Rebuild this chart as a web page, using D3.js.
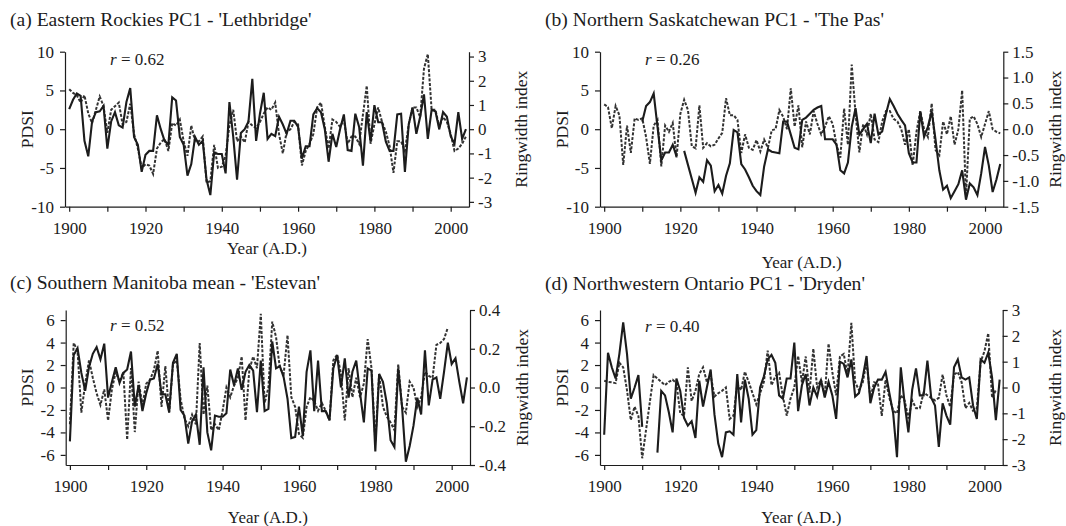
<!DOCTYPE html>
<html><head><meta charset="utf-8">
<script src="https://cdn.jsdelivr.net/npm/d3@7"></script>
<style>
body{margin:0;background:#fff;}
svg{display:block;font-family:"Liberation Serif","Times New Roman",serif;}
</style></head><body>
<svg id="chart" width="1066" height="526"></svg>
<script>
const years = d3.range(1900, 2005);

// (a) Eastern Rockies PC1 - Lethbridge
const pdsiA = [2.6,3.8,4.6,4.3,-1.5,-3.5,1.0,2.2,2.3,3.0,
 -2.5,1.0,2.2,0.5,0.2,3.5,5.3,-1.0,-2.0,-5.5,
 -3.3,-2.8,-2.8,1.8,0.0,-1.5,-2.0,4.1,3.7,-1.0,
 -2.0,-6.0,-4.5,-1.0,-2.0,-1.5,-6.5,-8.5,-3.0,-3.2,
 -3.2,-5.7,3.5,-1.0,-6.5,-0.5,0.0,1.0,6.5,-1.5,
 2.0,4.7,-1.25,-0.6,-0.9,1.6,0.6,-0.6,1.1,1.1,
 0.3,-3.8,-2.2,-2.2,1.9,2.7,2.2,0.0,-4.2,-0.6,
 -2.3,0.0,1.9,-2.7,-2.8,2.0,0.3,-4.7,2.2,-1.6,
 3.1,0.9,0.9,-1.6,-2.8,-2.8,1.9,2.0,-5.5,0.6,
 2.8,-0.6,1.6,4.5,-1.25,2.5,2.3,0.0,2.2,1.6,
 -0.9,-1.9,2.2,-1.25,0.0];
const rwA = [1.65,1.5,1.4,1.1,1.4,0.65,0.25,0.8,1.35,0.95,
 -0.15,0.8,0.95,1.1,0.2,0.3,1.05,-0.2,-0.8,-1.6,
 -1.45,-1.5,-1.85,-0.8,-0.55,-0.4,-0.9,0.25,0.15,0.4,
 -0.5,-1.1,0.15,-0.5,-0.5,-0.3,-2.2,-2.15,-0.65,-1.6,
 -1.55,-1.1,0.15,0.8,-0.5,-0.3,-0.55,0.3,0.15,0.05,
 0.3,0.65,0.9,0.8,1.1,-0.2,-1.0,-0.1,0.0,0.3,
 0.2,-1.5,-0.9,-0.6,-0.2,0.9,1.1,0.1,-0.8,0.4,
 0.3,0.1,0.4,-0.6,-0.3,-0.3,-0.6,0.6,1.8,-0.6,
 0.2,0.9,0.3,-0.1,-0.7,-1.8,-0.5,-0.5,-0.9,0.2,
 0.9,0.9,0.5,2.5,3.1,0.8,0.8,0.1,0.5,0.3,
 -0.2,-0.9,-0.8,-0.6,-0.3];

// (b) Northern Saskatchewan PC1 - The Pas
const pdsiB = [null,null,null,null,null,null,null,null,null,null,
 1.0,3.0,3.5,4.6,0.3,-4.0,-3.0,-3.0,-2.0,-3.5,
 null,-2.8,-4.6,-6.4,-8.2,-6.2,-6.8,-4.0,-4.7,-8.0,
 -7.2,-8.3,-6.0,-4.4,-0.1,-0.4,-4.5,-5.2,-6.2,-7.3,
 -8.0,-8.5,-4.8,-2.6,-2.9,-3.0,-3.1,1.0,1.0,-0.7,
 -2.4,-2.6,1.2,1.5,2.0,2.5,2.8,3.0,-1.3,-1.3,
 -1.3,-2.0,-5.3,-5.7,-4.3,0.3,2.7,-0.7,0.0,0.7,
 -1.8,2.0,-0.7,-0.3,2.0,3.9,3.0,2.0,1.2,0.5,
 -3.1,-4.3,-4.3,2.3,-1.0,0.3,2.3,-1.3,-5.3,-7.8,
 -7.3,-8.9,-8.0,-7.1,-5.3,-9.1,-7.0,-7.5,-8.5,-5.7,
 -2.3,-4.7,-8.1,-6.5,-4.5];
const rwB = [0.48,0.43,0.02,0.45,0.27,-0.69,0.07,-0.46,0.21,0.18,
 0.21,-0.15,-0.67,0.07,0.18,-0.72,0.07,-0.05,0.12,-0.55,
 0.3,0.57,0.37,-0.33,-0.37,0.46,-0.36,-0.27,-0.33,-0.3,
 -0.18,-0.07,0.6,0.27,0.27,0.18,-0.46,-0.1,-0.36,-0.4,
 -0.21,-0.43,-0.2,-0.36,-0.02,0.0,0.37,0.24,0.0,0.79,
 0.05,0.46,-0.35,0.15,-0.1,0.35,0.1,-0.1,0.05,0.25,
 0.1,-0.3,-0.55,0.4,-0.3,1.25,0.3,-0.45,0.1,-0.1,
 0.3,-0.2,-0.25,0.15,0.35,0.35,0.2,0.15,0.0,-0.3,
 0.0,-0.7,-0.05,0.35,0.0,-0.15,0.5,-0.4,-0.5,0.15,
 -0.1,0.25,-0.3,0.0,0.75,-1.3,0.2,0.25,0.1,-0.15,
 0.1,0.35,0.0,-0.05,-0.08];

// (c) Southern Manitoba mean - Estevan
const pdsiC = [-4.8,2.9,3.5,1.3,-0.3,1.8,3.0,3.6,2.5,3.9,
 -0.9,0.5,1.8,0.4,1.3,1.6,3.2,-1.7,0.2,-2.1,
 -0.5,0.7,0.8,2.1,-0.6,-0.6,-2.2,2.2,3.0,-2.0,
 -2.5,-5.0,-3.0,-2.4,-5.1,1.8,-4.0,-5.6,-2.5,-2.6,
 -2.6,-2.3,1.6,0.2,1.7,-0.2,1.4,2.0,1.5,-2.2,
 2.4,-2.1,-1.9,4.1,1.7,1.9,0.9,-1.0,-4.5,-4.4,
 -1.7,-4.3,1.4,3.3,-2.1,2.4,-2.1,-2.1,-2.9,1.7,
 2.9,0.0,2.6,-0.9,1.4,2.4,-0.5,-3.1,1.7,1.5,
 -5.7,1.2,0.5,-1.4,-4.7,-5.3,1.7,-1.7,-6.6,-5.2,
 -3.4,-0.9,-2.4,3.3,-1.6,0.7,0.9,-1.0,1.4,4.0,
 2.1,2.6,0.5,-1.4,0.9];
const rwC = [-0.19,0.23,0.19,-0.13,0.02,0.14,0.05,-0.03,-0.09,-0.01,
 -0.17,-0.01,0.08,0.03,0.08,-0.27,0.1,-0.23,0.03,-0.09,
 0.02,0.04,0.09,0.19,-0.1,0.11,-0.13,0.12,0.14,-0.06,
 -0.16,-0.2,-0.14,-0.19,0.23,-0.14,0.01,-0.22,-0.19,-0.22,
 -0.12,0.0,-0.05,0.01,0.05,0.16,-0.17,0.09,0.16,0.1,
 0.38,-0.08,0.0,0.34,0.26,0.1,0.07,0.27,-0.05,-0.1,
 -0.24,-0.26,-0.1,-0.05,-0.07,-0.12,-0.08,-0.12,-0.17,0.14,
 0.17,0.07,-0.17,0.1,-0.05,0.05,-0.05,0.02,0.25,0.1,
 -0.28,0.07,-0.1,-0.15,-0.18,-0.22,0.12,-0.1,-0.13,0.03,
 0.0,-0.1,-0.05,0.08,0.06,0.05,0.22,0.23,0.25,0.31,
 null,null,null,null,null];

// (d) Northwestern Ontario PC1 - Dryden
const pdsiD = [-4.2,3.1,1.8,0.8,3.0,5.8,3.0,-1.0,0.0,1.1,
 -3.5,null,null,null,-5.8,-0.3,-0.7,-2.2,-4.0,0.8,
 -0.3,-2.7,-3.4,-3.0,-4.5,0.6,-1.7,0.0,1.6,-2.4,
 -5.0,-6.2,-4.0,-3.9,-4.2,1.2,-3.1,0.7,-1.0,-4.2,
 -3.8,0.0,1.0,2.5,2.9,2.2,-0.7,-1.0,0.8,0.8,
 4.0,-2.1,0.2,1.2,-1.6,0.0,-0.8,0.7,-0.9,0.5,
 -0.7,-2.8,2.3,2.1,0.9,2.5,-0.8,-0.5,0.9,2.8,
 -1.4,0.0,0.7,0.7,1.4,-0.5,-2.3,-6.2,1.8,-1.4,
 -4.0,-0.2,1.7,-0.7,-0.7,2.4,-0.9,-1.6,-5.3,-1.4,
 -2.5,-3.3,1.8,2.5,0.9,0.7,0.9,-1.6,-2.8,2.5,
 2.2,3.1,0.9,-2.9,0.7];
const rwD = [0.26,0.22,0.2,0.17,0.96,0.78,-0.1,-1.26,-0.74,-1.1,
 -2.74,-1.65,-0.57,0.48,0.35,0.22,0.09,0.22,0.3,0.17,
 -1.0,-1.1,0.78,-0.52,-0.13,0.52,0.78,0.22,0.48,-0.35,
 -0.22,-0.13,0.0,-1.22,-1.09,0.13,-0.1,0.61,0.22,-0.22,
 -0.65,-0.22,0.22,1.43,0.09,0.43,0.57,-0.35,-1.09,-0.43,
 0.0,1.22,0.2,1.2,-0.2,1.5,0.0,0.3,-0.3,1.7,
 0.6,-0.3,1.2,1.3,0.5,2.5,0.2,-0.1,0.2,1.0,
 -0.4,0.2,0.15,-1.1,0.3,-0.4,-0.9,-1.0,-0.3,-0.5,
 -1.2,-0.5,-0.8,-0.8,-0.2,-0.3,-0.4,-0.5,-0.4,0.5,
 -0.3,-0.75,0.5,0.6,0.2,-0.8,-0.6,-0.9,-0.8,1.0,
 1.4,2.1,-0.4,-0.1,null];

const xTicks = [1900,1910,1920,1930,1940,1950,1960,1970,1980,1990,2000];
const pdsiTicksTop = [-10,-5,0,5,10];
const pdsiTicksBottom = [-6,-4,-2,0,2,4,6];
const rwTicksA = [-3,-2,-1,0,1,2,3];
const rwTicksB = [-1.5,-1.0,-0.5,0.0,0.5,1.0,1.5];
const rwTicksC = [-0.4,-0.2,0.0,0.2,0.4];
const rwTicksD = [-3,-2,-1,0,1,2,3];

const fmtInt = d => d3.format("d")(d).replace("\u2212","-");
const fmt1 = d => d3.format(".1f")(d).replace("\u2212","-");

const panels = [
 {title:"(a) Eastern Rockies PC1 - 'Lethbridge'", r:"0.62", pdsi:pdsiA, rw:rwA,
  x0:65, x1:469, y0:51.7, y1:206.7, ld:[-10,10], lt:pdsiTicksTop, rd:[-3.2,3.2], rt:rwTicksA, rf:fmtInt,
  tx:10, ty:26, rx:110, ry:65, xly:254},
 {title:"(b) Northern Saskatchewan PC1 - 'The Pas'", r:"0.26", pdsi:pdsiB, rw:rwB,
  x0:600, x1:1003.3, y0:51.7, y1:206.7, ld:[-10,10], lt:pdsiTicksTop, rd:[-1.5,1.5], rt:rwTicksB, rf:fmt1,
  tx:545, ty:26, rx:645, ry:65, xly:268},
 {title:"(c) Southern Manitoba mean - 'Estevan'", r:"0.52", pdsi:pdsiC, rw:rwC,
  x0:65.7, x1:470, y0:310, y1:465, ld:[-6.9,6.9], lt:pdsiTicksBottom, rd:[-0.4,0.4], rt:rwTicksC, rf:fmt1,
  tx:10, ty:289, rx:110, ry:331, xly:523},
 {title:"(d) Northwestern Ontario PC1 - 'Dryden'", r:"0.40", pdsi:pdsiD, rw:rwD,
  x0:600, x1:1002.7, y0:310, y1:465, ld:[-6.9,6.9], lt:pdsiTicksBottom, rd:[-3,3], rt:rwTicksD, rf:fmtInt,
  tx:545, ty:290, rx:645, ry:332, xly:523}
];

const svg = d3.select("#chart");
const ink = "#1c1c1c";

panels.forEach(p => {
  const g = svg.append("g");
  const x = d3.scaleLinear().domain([1898.9, 2004.8]).range([p.x0, p.x1]);
  const yL = d3.scaleLinear().domain(p.ld).range([p.y1, p.y0]);
  const yR = d3.scaleLinear().domain(p.rd).range([p.y1, p.y0]);

  // title
  g.append("text").attr("x", p.tx).attr("y", p.ty).attr("font-size", 19.6).attr("fill", ink).text(p.title);

  // axes
  const styleAxis = sel => {
    sel.select(".domain").attr("stroke", ink).attr("stroke-width", 1.2);
    sel.selectAll(".tick line").attr("stroke", ink).attr("stroke-width", 1.2);
    sel.selectAll("text").attr("font-size", 17).attr("fill", ink)
       .attr("font-family", "'Liberation Serif','Times New Roman',serif");
    sel.attr("font-family", null).attr("font-size", null);
  };
  g.append("g").attr("transform", `translate(0,${p.y1})`)
    .call(d3.axisBottom(x).tickValues(xTicks).tickSize(5).tickSizeOuter(0).tickPadding(10)
      .tickFormat(d => d % 20 === 0 ? String(d) : ""))
    .call(styleAxis);
  g.append("g").attr("transform", `translate(${p.x0},0)`)
    .call(d3.axisLeft(yL).tickValues(p.lt).tickSize(5).tickSizeOuter(0).tickPadding(6).tickFormat(fmtInt))
    .call(styleAxis);
  g.append("g").attr("transform", `translate(${p.x1},0)`)
    .call(d3.axisRight(yR).tickValues(p.rt).tickSize(5).tickSizeOuter(0).tickPadding(4).tickFormat(p.rf))
    .call(styleAxis);

  // axis titles
  const yc = (p.y0 + p.y1) / 2;
  g.append("text").attr("transform", `translate(${p.x0 - 38.5},${yc}) rotate(-90)`)
    .attr("text-anchor", "middle").attr("dy", "0.35em").attr("font-size", 17.5).attr("fill", ink).text("PDSI");
  g.append("text").attr("transform", `translate(${p.x1 + 52},${yc}) rotate(-90)`)
    .attr("text-anchor", "middle").attr("dy", "0.35em").attr("font-size", 17.5).attr("fill", ink).text("Ringwidth index");
  g.append("text").attr("x", (p.x0 + p.x1) / 2).attr("y", p.xly).attr("text-anchor", "middle")
    .attr("font-size", 17).attr("fill", ink).text("Year (A.D.)");

  // r label
  const rt = g.append("text").attr("x", p.rx).attr("y", p.ry).attr("font-size", 17).attr("fill", ink);
  rt.append("tspan").attr("font-style", "italic").text("r");
  rt.append("tspan").text(" = " + p.r);

  // series
  const lineL = d3.line().defined(d => d.v != null).x(d => x(d.year)).y(d => yL(d.v));
  const lineR = d3.line().defined(d => d.v != null).x(d => x(d.year)).y(d => yR(d.v));
  const rwData = years.map((yr, i) => ({year: yr, v: p.rw[i]}));
  const pdData = years.map((yr, i) => ({year: yr, v: p.pdsi[i]}));
  g.append("path").datum(rwData).attr("d", lineR).attr("fill", "none")
    .attr("stroke", "#333").attr("stroke-width", 2).attr("stroke-dasharray", "3,1.6");
  g.append("path").datum(pdData).attr("d", lineL).attr("fill", "none")
    .attr("stroke", ink).attr("stroke-width", 2.1).attr("stroke-linejoin", "miter");
});
</script>
</body></html>
